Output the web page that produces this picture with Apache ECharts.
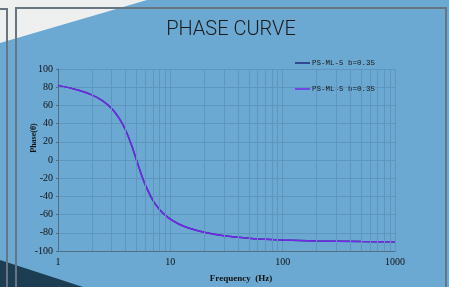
<!DOCTYPE html>
<html>
<head>
<meta charset="utf-8">
<script src="https://cdn.jsdelivr.net/npm/echarts@6/dist/echarts.min.js"></script>
<style>
    html, body { margin: 0; padding: 0; background: #eef0f0; }
    #chart { width: 449px; height: 287px; }
</style>
</head>
<body>
<div id="chart"></div>
<script>
// frequency (Hz) and phase (deg)
var freqs = [1, 1.5, 2, 2.5, 3, 3.5, 4, 4.5, 5, 5.5, 6, 7, 8, 9, 10, 12, 15, 20, 30, 50, 70, 100, 200, 500, 1000];
var phase = [82, 77, 71.6, 65, 56.7, 46.1, 32.7, 16.8, 0, -15.3, -27.6, -44.4, -54.3, -60.6, -65, -70.6, -75.3, -79.4, -83.2, -86, -87.1, -88, -89, -89.6, -89.8];
var seriesNames = ['PS-ML-5 b=0.35', 'PS-ML-5 b=0.35 '];
var seriesColors = ['#1f2a7a', '#7428e8'];
var minorFreqs = [2, 3, 4, 5, 6, 7, 8, 9, 20, 30, 40, 50, 60, 70, 80, 90, 200, 300, 400, 500, 600, 700, 800, 900];

var myChart = echarts.init(document.getElementById('chart'));

var curve = [];
for (var i = 0; i < freqs.length; i++) {
    curve.push([freqs[i], phase[i]]);
}

// minor vertical grid lines at 2..9 of every decade
var minorLines = [];
for (var j = 0; j < minorFreqs.length; j++) {
    minorLines.push({ xAxis: minorFreqs[j] });
}

var serif = 'Liberation Serif';
var gridColor = '#5e96be';

var option = {
    backgroundColor: 'transparent',
    animation: false,
    graphic: [
        // card background
        { type: 'polygon', z: -10, silent: true,
          shape: { points: [[0, 43], [147, 0], [449, 0], [449, 287], [0, 287]] },
          style: { fill: '#6ba9d2' } },
        { type: 'polygon', z: -9, silent: true,
          shape: { points: [[0, 260], [83, 287], [0, 287]] },
          style: { fill: '#1d3e52' } },
        { type: 'polyline', z: -8, silent: true,
          shape: { points: [[16, 290], [16, 8], [446, 8], [446, 290]] },
          style: { stroke: '#66757f', lineWidth: 2, fill: null } },
        { type: 'polyline', z: -8, silent: true,
          shape: { points: [[-2, 9], [7, 9], [7, 290]] },
          style: { stroke: '#66757f', lineWidth: 2, fill: null } },
        { type: 'text', x: 231, y: 30,
          style: { text: 'PHASE CURVE', fontFamily: 'Roboto', fontWeight: 300, fontSize: 20, fill: '#1a1a1a', textAlign: 'center', textVerticalAlign: 'middle' } },
        { type: 'text', x: 34, y: 138, rotation: Math.PI / 2,
          style: { text: 'Phase(θ)', fontFamily: serif, fontWeight: 'bold', fontSize: 8, fill: '#111', textAlign: 'center', textVerticalAlign: 'middle' } },
        { type: 'text', x: 241, y: 279,
          style: { text: 'Frequency  (Hz)', fontFamily: serif, fontWeight: 'bold', fontSize: 9, fill: '#111', textAlign: 'center', textVerticalAlign: 'middle' } }
    ],
    legend: {
        orient: 'vertical',
        left: 290,
        top: 54,
        itemGap: 18,
        icon: 'rect',
        itemWidth: 15,
        itemHeight: 1.5,
        textStyle: { fontFamily: 'Liberation Mono', fontSize: 7.5, color: '#1a1a1a', padding: [0, 0, 0, -3] },
        data: seriesNames
    },
    grid: { left: 58, right: 54, top: 69, bottom: 36 },
    xAxis: {
        type: 'log',
        logBase: 10,
        min: 1,
        max: 1000,
        axisLine: { onZero: false, lineStyle: { color: '#4f6f85', width: 1 } },
        axisTick: { show: false },
        axisLabel: {
            fontFamily: serif, fontSize: 10, color: '#111', margin: 6,
            formatter: function (v) { return String(v); }
        },
        splitLine: { show: true, lineStyle: { color: gridColor, width: 1 } }
    },
    yAxis: {
        type: 'value',
        min: -100,
        max: 100,
        interval: 20,
        axisLine: { show: true, lineStyle: { color: '#4f6f85', width: 1 } },
        axisTick: { show: true, length: 2, lineStyle: { color: '#4f6f85' } },
        axisLabel: { fontFamily: serif, fontSize: 10, color: '#111', margin: 5 },
        splitLine: { show: true, lineStyle: { color: gridColor, width: 1 } }
    },
    series: [
        {
            name: seriesNames[0],
            type: 'line',
            data: curve,
            showSymbol: false,
            smooth: 0.3,
            color: seriesColors[0],
            lineStyle: { width: 1.5 },
            markLine: {
                silent: true,
                symbol: ['none', 'none'],
                label: { show: false },
                lineStyle: { type: 'solid', color: gridColor, width: 1 },
                data: minorLines
            }
        },
        {
            name: seriesNames[1],
            type: 'line',
            data: curve,
            showSymbol: false,
            smooth: 0.3,
            color: seriesColors[1],
            lineStyle: { width: 1.5 }
        }
    ]
};

myChart.setOption(option);
window.addEventListener('resize', myChart.resize);
</script>
</body>
</html>
